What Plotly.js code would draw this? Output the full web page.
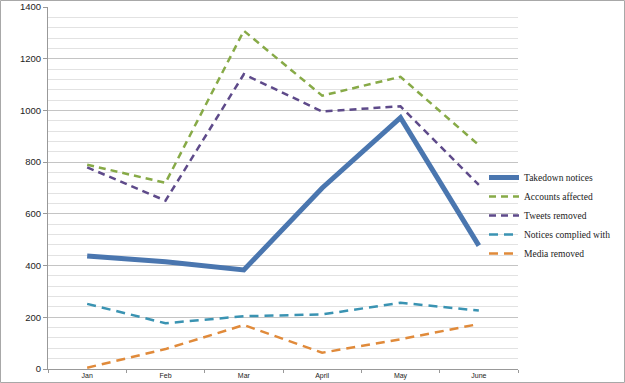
<!DOCTYPE html>
<html><head><meta charset="utf-8">
<script src="https://cdn.plot.ly/plotly-3.0.1.min.js"></script>
<style>html,body{margin:0;padding:0;background:#fff}#chart{width:625px;height:383px}</style>
</head><body><div id="chart"></div>
<script>
const months = ["Jan","Feb","Mar","April","May","June"];
const takedownNotices = [437, 415, 383, 700, 972, 477];
const accountsAffected = [790, 720, 1308, 1057, 1130, 866];
const tweetsRemoved = [780, 651, 1140, 996, 1016, 712];
const noticesCompliedWith = [252, 177, 204, 211, 256, 226];
const mediaRemoved = [5, 77, 170, 63, 115, 174];

const L = 48, R = 107, T = 7, B = 14, W = 625, H = 383;
const pw = W - L - R, ph = H - T - B;

function tr(name, y, color, width, dash) {
  return {x: months, y: y, name: name, type: "scatter", mode: "lines",
    line: {color: color, width: width, dash: dash}};
}
const data = [
  tr("Takedown notices", takedownNotices, "#4a76af", 5, "solid"),
  tr("Accounts affected", accountsAffected, "#87aa47", 2.5, "7px,5px"),
  tr("Tweets removed", tweetsRemoved, "#5e4a8a", 2.5, "7px,5px"),
  tr("Notices complied with", noticesCompliedWith, "#3a93b2", 2.5, "9px,6px"),
  tr("Media removed", mediaRemoved, "#e08a3a", 2.5, "9px,6px")
];
const layout = {
  width: W, height: H,
  margin: {l: L, r: R, t: T, b: B, pad: 0},
  paper_bgcolor: "#fff", plot_bgcolor: "#fff",
  showlegend: true,
  legend: {x: (484 - L) / pw, y: 1 - (163 - T) / ph, xanchor: "left", yanchor: "top",
    font: {family: "Liberation Serif, serif", size: 9.5, color: "#222"},
    itemwidth: 30, tracegroupgap: 0, bgcolor: "rgba(0,0,0,0)"},
  xaxis: {type: "category", range: [-0.5, 5.5], showgrid: false, zeroline: false,
    showline: true, linecolor: "#999", linewidth: 1,
    ticks: "outside", ticklen: 3, tickcolor: "#999", tickson: "boundaries",
    tickfont: {family: "Liberation Sans, sans-serif", size: 7, color: "#222"}},
  yaxis: {range: [0, 1400], dtick: 200, showgrid: true, gridcolor: "#c4c4c4", gridwidth: 1,
    zeroline: false, showline: true, linecolor: "#999", linewidth: 1,
    ticks: "outside", ticklen: 4, tickcolor: "#999",
    minor: {dtick: 40, showgrid: true, gridcolor: "#e2e2e2", gridwidth: 1, ticks: ""},
    tickfont: {family: "Liberation Sans, sans-serif", size: 9.5, color: "#222"}},
  shapes: [{type: "rect", xref: "paper", yref: "paper",
    x0: -(L - 0.5) / pw, x1: 1 + (R - 0.5) / pw, y0: -(B - 0.5) / ph, y1: 1 + (T - 0.5) / ph,
    line: {color: "#a8a8a8", width: 1}, layer: "below"}]
};
Plotly.newPlot("chart", data, layout, {displayModeBar: false, staticPlot: true});
</script></body></html>
